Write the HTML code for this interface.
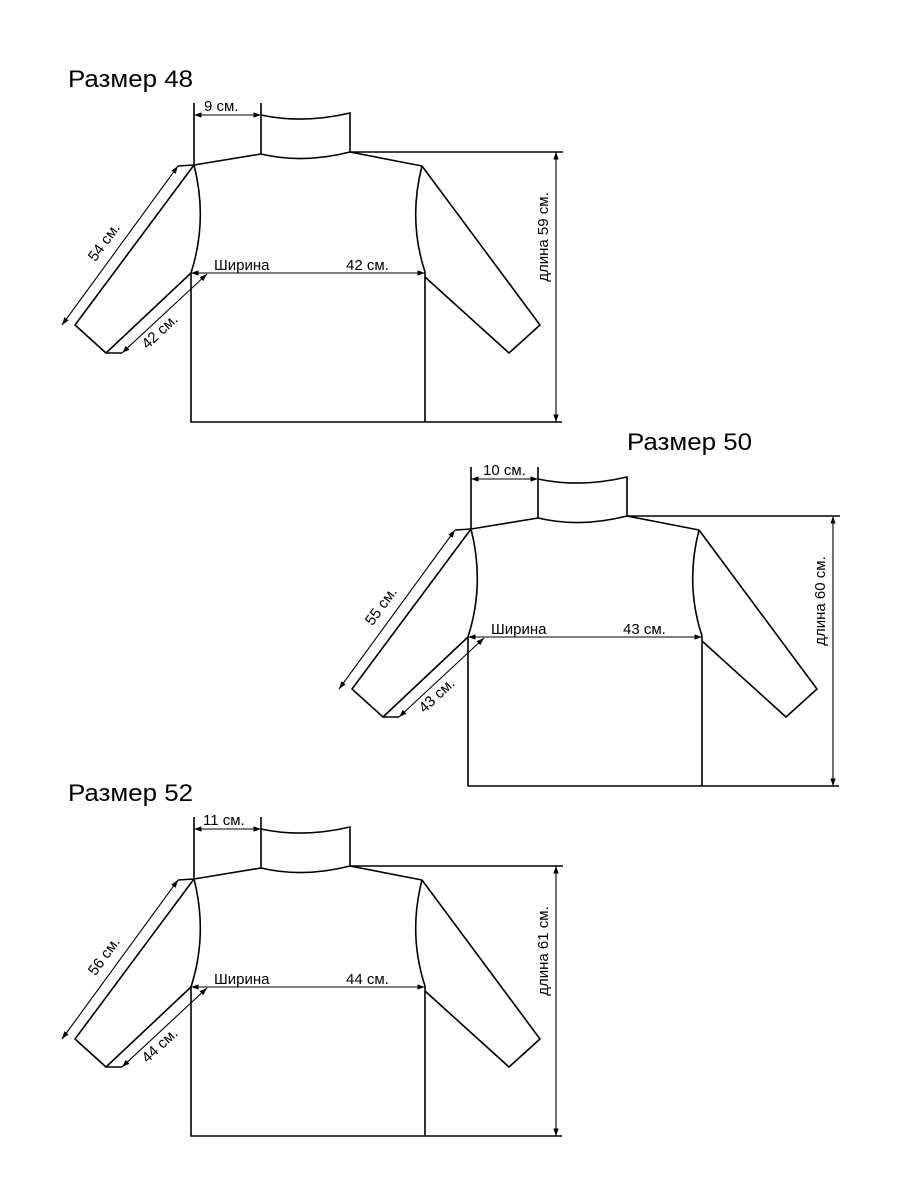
<!DOCTYPE html>
<html><head><meta charset="utf-8"><style>html,body{margin:0;padding:0;background:#fff}svg{display:block}</style></head>
<body>
<svg width="900" height="1200" viewBox="0 0 900 1200" xmlns="http://www.w3.org/2000/svg">
<defs>
<marker id="a" viewBox="0 0 10 10" refX="10" refY="5" markerWidth="7" markerHeight="7" orient="auto-start-reverse"><path d="M0,1.5 L10,5 L0,8.5 z" fill="#000"/></marker>
<g id="sw" fill="none" stroke="#000" stroke-width="1.6">
<path d="M194,103 V165 M261,103 V154 M261,115 Q303,124 350,113 V152 M261,154 Q303,164 350,152"/>
<path d="M194,165 L261,154 M350,152 L422,166 M350,152 H563"/>
<path d="M422,166 Q408,220 425,272 M194,165 Q208,220 191,273"/>
<path d="M191,273 V422 H425 V272 M425,422 H562"/>
<path d="M422,166 L540,325 L509,353 L425,277"/>
<path d="M194,165 L75,325 L106,353 L191,273"/>
<path d="M178,166 L194,165 M106,353 L122,353"/>
<g stroke-width="1.1">
<line x1="194" y1="115" x2="261" y2="115" marker-start="url(#a)" marker-end="url(#a)"/>
<line x1="191" y1="273" x2="425" y2="273" marker-start="url(#a)" marker-end="url(#a)"/>
<line x1="178" y1="166" x2="62" y2="325" marker-start="url(#a)" marker-end="url(#a)"/>
<line x1="122" y1="353" x2="207" y2="274" marker-start="url(#a)" marker-end="url(#a)"/>
<line x1="556" y1="152" x2="556" y2="422" marker-start="url(#a)" marker-end="url(#a)"/>
</g>
</g>
</defs>
<g font-family="Liberation Sans, sans-serif" fill="#000" font-size="24">
<text x="68" y="87" textLength="125" lengthAdjust="spacingAndGlyphs">Размер 48</text>
<text x="627" y="450" textLength="125" lengthAdjust="spacingAndGlyphs">Размер 50</text>
<text x="68" y="801" textLength="125" lengthAdjust="spacingAndGlyphs">Размер 52</text>
</g>
<use href="#sw"/>
<use href="#sw" transform="translate(277,364)"/>
<use href="#sw" transform="translate(0,714)"/>
<g font-family="Liberation Sans, sans-serif" font-size="15" fill="#000">
<text x="204" y="111">9 см.</text>
<text x="214" y="270">Ширина</text>
<text x="346" y="270">42 см.</text>
<text transform="translate(108,245) rotate(-54)" text-anchor="middle">54 см.</text>
<text transform="translate(163,335) rotate(-43)" text-anchor="middle">42 см.</text>
<text transform="translate(548,237) rotate(-90)" text-anchor="middle">длина 59 см.</text>
</g>
<g font-family="Liberation Sans, sans-serif" font-size="15" fill="#000" transform="translate(277,364)">
<text x="206" y="111">10 см.</text>
<text x="214" y="270">Ширина</text>
<text x="346" y="270">43 см.</text>
<text transform="translate(108,245) rotate(-54)" text-anchor="middle">55 см.</text>
<text transform="translate(163,335) rotate(-43)" text-anchor="middle">43 см.</text>
<text transform="translate(548,237) rotate(-90)" text-anchor="middle">длина 60 см.</text>
</g>
<g font-family="Liberation Sans, sans-serif" font-size="15" fill="#000" transform="translate(0,714)">
<text x="203" y="111">11 см.</text>
<text x="214" y="270">Ширина</text>
<text x="346" y="270">44 см.</text>
<text transform="translate(108,245) rotate(-54)" text-anchor="middle">56 см.</text>
<text transform="translate(163,335) rotate(-43)" text-anchor="middle">44 см.</text>
<text transform="translate(548,237) rotate(-90)" text-anchor="middle">длина 61 см.</text>
</g>
</svg>
</body></html>
